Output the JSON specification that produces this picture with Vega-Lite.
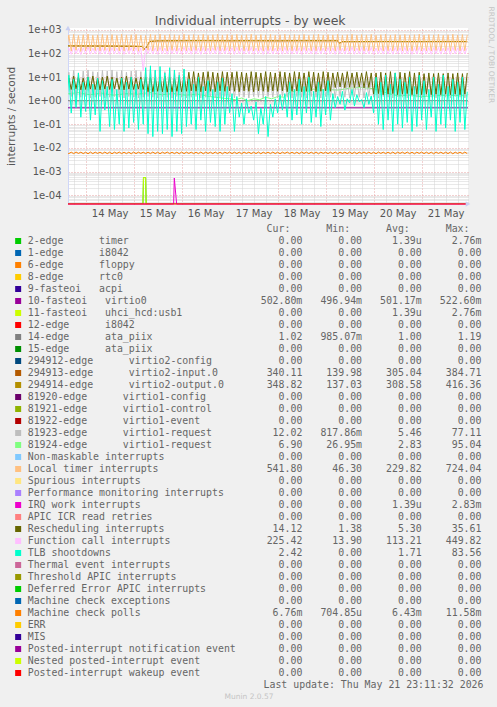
{
"$schema":"https://vega.github.io/schema/vega-lite/v6.json",
"background":"#f0f0f0",
"padding":{"left":6,"top":5,"right":4,"bottom":5},
"autosize":{"type":"pad"},
"title":{"text":"Individual interrupts - by week","font":"DejaVu Sans","fontSize":12.5,"fontWeight":"normal","color":"#555555","anchor":"middle","offset":-21},
"config":{"view":{"stroke":null},"font":"DejaVu Sans"},
"spacing":5,
"datasets":{
"wide":[
{"t":"2026-05-13T14:24","s17":1.4,"s20":130,"s25":3.1,"s26":95,"s27":0.4,"s32":0.0066},
{"t":"2026-05-13T15:36","s17":16,"s20":600,"s25":9,"s26":170,"s27":12,"s32":0.0057},
{"t":"2026-05-13T16:48","s17":1.5,"s20":125,"s25":3,"s26":92,"s27":0.3,"s32":0.0066},
{"t":"2026-05-13T18:00","s17":19,"s20":640,"s25":11,"s26":180,"s27":8,"s32":0.0057},
{"t":"2026-05-13T19:12","s17":1.3,"s20":135,"s25":3.2,"s26":98,"s27":0.5,"s32":0.0067},
{"t":"2026-05-13T20:24","s17":15,"s20":580,"s25":10,"s26":165,"s27":15,"s32":0.0058},
{"t":"2026-05-13T21:36","s17":1.4,"s20":120,"s25":2.9,"s26":90,"s27":0.2,"s32":0.0066},
{"t":"2026-05-13T22:48","s17":18,"s20":620,"s25":9,"s26":175,"s27":6,"s32":0.0057},
{"t":"2026-05-14T00:00","s17":1.5,"s20":130,"s25":3,"s26":96,"s27":0.35,"s32":0.0066},
{"t":"2026-05-14T01:12","s17":20,"s20":660,"s25":10,"s26":185,"s27":10,"s32":0.0056},
{"t":"2026-05-14T02:24","s17":1.3,"s20":128,"s25":3.1,"s26":94,"s27":0.15,"s32":0.0067},
{"t":"2026-05-14T03:36","s17":17,"s20":590,"s25":11,"s26":170,"s27":5,"s32":0.0057},
{"t":"2026-05-14T04:48","s17":1.4,"s20":132,"s25":3,"s26":97,"s27":0.25,"s32":0.0066},
{"t":"2026-05-14T06:00","s17":16,"s20":610,"s25":9,"s26":172,"s27":9,"s32":0.0058},
{"t":"2026-05-14T07:12","s17":1.5,"s20":126,"s25":2.9,"s26":93,"s27":0.05,"s32":0.0066},
{"t":"2026-05-14T08:24","s17":19,"s20":640,"s25":10,"s26":178,"s27":7,"s32":0.0057},
{"t":"2026-05-14T09:36","s17":1.3,"s20":134,"s25":3.1,"s26":95,"s27":0.4,"s32":0.0067},
{"t":"2026-05-14T10:48","s17":18,"s20":600,"s25":11,"s26":168,"s27":4,"s32":0.0057},
{"t":"2026-05-14T12:00","s17":1.4,"s20":124,"s25":3,"s26":91,"s27":0.08,"s32":0.0066},
{"t":"2026-05-14T13:12","s17":20,"s20":630,"s25":10,"s26":176,"s27":8,"s32":0.0056},
{"t":"2026-05-14T14:24","s17":1.5,"s20":130,"s25":3.2,"s26":96,"s27":0.06,"s32":0.0066},
{"t":"2026-05-14T15:36","s17":17,"s20":590,"s25":9,"s26":170,"s27":3,"s32":0.0058},
{"t":"2026-05-14T16:48","s17":1.4,"s20":128,"s25":3,"s26":94,"s27":0.1,"s32":0.0067},
{"t":"2026-05-14T18:00","s17":19,"s20":650,"s25":10,"s26":182,"s27":9,"s32":0.0057},
{"t":"2026-05-14T19:12","s17":1.3,"s20":126,"s25":2.9,"s26":92,"s27":0.05,"s32":0.0066},
{"t":"2026-05-14T20:24","s17":16,"s20":610,"s25":11,"s26":174,"s27":6,"s32":0.0057},
{"t":"2026-05-14T21:36","s17":1.5,"s20":133,"s25":3.1,"s26":97,"s27":0.07,"s32":0.0066},
{"t":"2026-05-14T22:48","s17":18,"s20":620,"s25":10,"s26":178,"s27":10,"s32":0.0056},
{"t":"2026-05-15T00:00","s17":1.4,"s20":129,"s25":3,"s26":95,"s27":0.12,"s32":0.0067},
{"t":"2026-05-15T01:12","s17":19,"s20":640,"s25":9,"s26":180,"s27":5,"s32":0.0057},
{"t":"2026-05-15T02:24","s17":1.3,"s20":125,"s25":3.1,"s26":93,"s27":0.06,"s32":0.0066},
{"t":"2026-05-15T03:36","s17":17,"s20":600,"s25":10,"s26":172,"s27":8,"s32":0.0058},
{"t":"2026-05-15T04:48","s17":1.4,"s20":130,"s25":3,"s26":18,"s27":0.1,"s32":0.0066},
{"t":"2026-05-15T06:00","s17":20,"s20":580,"s25":10,"s26":175,"s27":25,"s32":0.0057},
{"t":"2026-05-15T07:12","s17":1.5,"s20":135,"s25":2.4,"s26":98,"s27":0.04,"s32":0.0066},
{"t":"2026-05-15T08:24","s17":22,"s20":640,"s25":10,"s26":180,"s27":30,"s32":0.0057},
{"t":"2026-05-15T09:36","s17":1.4,"s20":128,"s25":2.4,"s26":94,"s27":0.03,"s32":0.0067},
{"t":"2026-05-15T10:48","s17":18,"s20":610,"s25":9,"s26":175,"s27":20,"s32":0.0057},
{"t":"2026-05-15T12:00","s17":1.3,"s20":126,"s25":2.5,"s26":92,"s27":0.05,"s32":0.0066},
{"t":"2026-05-15T13:12","s17":20,"s20":660,"s25":10,"s26":184,"s27":28,"s32":0.0056},
{"t":"2026-05-15T14:24","s17":1.5,"s20":131,"s25":2.4,"s26":96,"s27":0.04,"s32":0.0066},
{"t":"2026-05-15T15:36","s17":17,"s20":600,"s25":11,"s26":170,"s27":15,"s32":0.0058},
{"t":"2026-05-15T16:48","s17":1.4,"s20":127,"s25":2.3,"s26":93,"s27":0.06,"s32":0.0067},
{"t":"2026-05-15T18:00","s17":19,"s20":630,"s25":10,"s26":178,"s27":25,"s32":0.0057},
{"t":"2026-05-15T19:12","s17":1.3,"s20":133,"s25":2.4,"s26":97,"s27":0.03,"s32":0.0066},
{"t":"2026-05-15T20:24","s17":18,"s20":620,"s25":9,"s26":176,"s27":20,"s32":0.0057},
{"t":"2026-05-15T21:36","s17":1.5,"s20":129,"s25":2.5,"s26":95,"s27":0.05,"s32":0.0066},
{"t":"2026-05-15T22:48","s17":16,"s20":590,"s25":10,"s26":172,"s27":12,"s32":0.0056},
{"t":"2026-05-16T00:00","s17":1.4,"s20":126,"s25":2.4,"s26":94,"s27":0.04,"s32":0.0067},
{"t":"2026-05-16T01:12","s17":20,"s20":650,"s25":11,"s26":182,"s27":22,"s32":0.0057},
{"t":"2026-05-16T02:24","s17":1.3,"s20":130,"s25":2.5,"s26":96,"s27":0.08,"s32":0.0066},
{"t":"2026-05-16T03:36","s17":8,"s20":610,"s25":16,"s26":176,"s27":8,"s32":0.0058},
{"t":"2026-05-16T04:48","s17":1.4,"s20":128,"s25":2.6,"s26":93,"s27":0.1,"s32":0.0066},
{"t":"2026-05-16T06:00","s17":7,"s20":630,"s25":17,"s26":180,"s27":5,"s32":0.0057},
{"t":"2026-05-16T07:12","s17":1.5,"s20":132,"s25":2.5,"s26":97,"s27":0.06,"s32":0.0066},
{"t":"2026-05-16T08:24","s17":9,"s20":600,"s25":15,"s26":172,"s27":10,"s32":0.0057},
{"t":"2026-05-16T09:36","s17":1.3,"s20":126,"s25":2.4,"s26":92,"s27":0.15,"s32":0.0067},
{"t":"2026-05-16T10:48","s17":8,"s20":640,"s25":16,"s26":182,"s27":4,"s32":0.0056},
{"t":"2026-05-16T12:00","s17":1.4,"s20":130,"s25":2.6,"s26":95,"s27":0.05,"s32":0.0066},
{"t":"2026-05-16T13:12","s17":6,"s20":590,"s25":17,"s26":170,"s27":7,"s32":0.0058},
{"t":"2026-05-16T14:24","s17":1.5,"s20":128,"s25":2.5,"s26":94,"s27":0.12,"s32":0.0066},
{"t":"2026-05-16T15:36","s17":8,"s20":620,"s25":16,"s26":178,"s27":3,"s32":0.0057},
{"t":"2026-05-16T16:48","s17":1.3,"s20":134,"s25":2.4,"s26":96,"s27":0.08,"s32":0.0067},
{"t":"2026-05-16T18:00","s17":7,"s20":650,"s25":15,"s26":184,"s27":6,"s32":0.0057},
{"t":"2026-05-16T19:12","s17":1.4,"s20":127,"s25":2.6,"s26":93,"s27":0.05,"s32":0.0066},
{"t":"2026-05-16T20:24","s17":9,"s20":600,"s25":17,"s26":174,"s27":9,"s32":0.0056},
{"t":"2026-05-16T21:36","s17":1.5,"s20":131,"s25":2.5,"s26":97,"s27":0.1,"s32":0.0066},
{"t":"2026-05-16T22:48","s17":8,"s20":630,"s25":16,"s26":180,"s27":4,"s32":0.0058},
{"t":"2026-05-17T00:00","s17":1.4,"s20":129,"s25":2.6,"s26":95,"s27":0.3,"s32":0.0067},
{"t":"2026-05-17T01:12","s17":7,"s20":610,"s25":16,"s26":176,"s27":2,"s32":0.0057},
{"t":"2026-05-17T02:24","s17":1.3,"s20":126,"s25":2.5,"s26":92,"s27":0.05,"s32":0.0066},
{"t":"2026-05-17T03:36","s17":8,"s20":640,"s25":17,"s26":182,"s27":1.5,"s32":0.0057},
{"t":"2026-05-17T04:48","s17":1.5,"s20":133,"s25":2.4,"s26":96,"s27":0.2,"s32":0.0066},
{"t":"2026-05-17T06:00","s17":6,"s20":590,"s25":16,"s26":170,"s27":0.8,"s32":0.0056},
{"t":"2026-05-17T07:12","s17":1.4,"s20":128,"s25":2.6,"s26":94,"s27":0.1,"s32":0.0067},
{"t":"2026-05-17T08:24","s17":9,"s20":620,"s25":15,"s26":178,"s27":1.2,"s32":0.0058},
{"t":"2026-05-17T09:36","s17":1.3,"s20":130,"s25":2.5,"s26":95,"s27":0.3,"s32":0.0066},
{"t":"2026-05-17T10:48","s17":8,"s20":650,"s25":17,"s26":184,"s27":0.6,"s32":0.0057},
{"t":"2026-05-17T12:00","s17":1.5,"s20":127,"s25":2.4,"s26":93,"s27":0.15,"s32":0.0066},
{"t":"2026-05-17T13:12","s17":7,"s20":600,"s25":16,"s26":172,"s27":0.9,"s32":0.0057},
{"t":"2026-05-17T14:24","s17":1.4,"s20":132,"s25":2.6,"s26":97,"s27":0.04,"s32":0.0067},
{"t":"2026-05-17T15:36","s17":8,"s20":630,"s25":15,"s26":180,"s27":0.5,"s32":0.0056},
{"t":"2026-05-17T16:48","s17":1.3,"s20":126,"s25":2.5,"s26":92,"s27":0.1,"s32":0.0066},
{"t":"2026-05-17T18:00","s17":9,"s20":610,"s25":17,"s26":176,"s27":1.5,"s32":0.0058},
{"t":"2026-05-17T19:12","s17":1.5,"s20":131,"s25":2.4,"s26":96,"s27":0.03,"s32":0.0066},
{"t":"2026-05-17T20:24","s17":7,"s20":640,"s25":16,"s26":182,"s27":0.7,"s32":0.0057},
{"t":"2026-05-17T21:36","s17":1.4,"s20":128,"s25":2.6,"s26":94,"s27":0.2,"s32":0.0067},
{"t":"2026-05-17T22:48","s17":8,"s20":590,"s25":15,"s26":170,"s27":1.2,"s32":0.0057},
{"t":"2026-05-18T00:00","s17":1.3,"s20":130,"s25":2.5,"s26":95,"s27":0.3,"s32":0.0066},
{"t":"2026-05-18T01:12","s17":9,"s20":620,"s25":17,"s26":178,"s27":1.8,"s32":0.0056},
{"t":"2026-05-18T02:24","s17":1.5,"s20":127,"s25":2.6,"s26":93,"s27":0.4,"s32":0.0066},
{"t":"2026-05-18T03:36","s17":8,"s20":650,"s25":16,"s26":184,"s27":2,"s32":0.0058},
{"t":"2026-05-18T04:48","s17":1.4,"s20":133,"s25":2.4,"s26":97,"s27":0.2,"s32":0.0067},
{"t":"2026-05-18T06:00","s17":7,"s20":600,"s25":15,"s26":172,"s27":6,"s32":0.0057},
{"t":"2026-05-18T07:12","s17":1.3,"s20":128,"s25":2.5,"s26":94,"s27":0.15,"s32":0.0066},
{"t":"2026-05-18T08:24","s17":8,"s20":630,"s25":17,"s26":180,"s27":3,"s32":0.0057},
{"t":"2026-05-18T09:36","s17":1.5,"s20":130,"s25":2.6,"s26":95,"s27":0.25,"s32":0.0066},
{"t":"2026-05-18T10:48","s17":9,"s20":610,"s25":16,"s26":176,"s27":8,"s32":0.0056},
{"t":"2026-05-18T12:00","s17":1.4,"s20":126,"s25":2.4,"s26":92,"s27":0.1,"s32":0.0067},
{"t":"2026-05-18T13:12","s17":7,"s20":640,"s25":15,"s26":182,"s27":4,"s32":0.0058},
{"t":"2026-05-18T14:24","s17":1.3,"s20":132,"s25":2.5,"s26":96,"s27":0.3,"s32":0.0066},
{"t":"2026-05-18T15:36","s17":8,"s20":590,"s25":17,"s26":170,"s27":10,"s32":0.0057},
{"t":"2026-05-18T16:48","s17":1.5,"s20":129,"s25":2.6,"s26":95,"s27":0.12,"s32":0.0066},
{"t":"2026-05-18T18:00","s17":9,"s20":620,"s25":16,"s26":178,"s27":2.5,"s32":0.0057},
{"t":"2026-05-18T19:12","s17":1.4,"s20":127,"s25":2.4,"s26":93,"s27":0.2,"s32":0.0067},
{"t":"2026-05-18T20:24","s17":7,"s20":650,"s25":15,"s26":184,"s27":6,"s32":0.0056},
{"t":"2026-05-18T21:36","s17":1.3,"s20":131,"s25":2.5,"s26":97,"s27":0.08,"s32":0.0066},
{"t":"2026-05-18T22:48","s17":8,"s20":600,"s25":17,"s26":172,"s27":3,"s32":0.0058},
{"t":"2026-05-19T00:00","s17":1.5,"s20":128,"s25":2.6,"s26":94,"s27":0.25,"s32":0.0066},
{"t":"2026-05-19T01:12","s17":9,"s20":630,"s25":16,"s26":180,"s27":7,"s32":0.0057},
{"t":"2026-05-19T02:24","s17":1.4,"s20":130,"s25":2.5,"s26":95,"s27":0.15,"s32":0.0066},
{"t":"2026-05-19T03:36","s17":7,"s20":610,"s25":15,"s26":176,"s27":2,"s32":0.0057},
{"t":"2026-05-19T04:48","s17":1.3,"s20":126,"s25":3.6,"s26":92,"s27":0.5,"s32":0.0067},
{"t":"2026-05-19T06:00","s17":8,"s20":640,"s25":16,"s26":182,"s27":1.5,"s32":0.0056},
{"t":"2026-05-19T07:12","s17":1.5,"s20":133,"s25":3.8,"s26":96,"s27":0.7,"s32":0.0066},
{"t":"2026-05-19T08:24","s17":9,"s20":590,"s25":15,"s26":170,"s27":2.5,"s32":0.0058},
{"t":"2026-05-19T09:36","s17":1.4,"s20":128,"s25":3.5,"s26":94,"s27":0.4,"s32":0.0066},
{"t":"2026-05-19T10:48","s17":7,"s20":620,"s25":17,"s26":178,"s27":1.2,"s32":0.0057},
{"t":"2026-05-19T12:00","s17":1.3,"s20":130,"s25":3.7,"s26":95,"s27":0.8,"s32":0.0067},
{"t":"2026-05-19T13:12","s17":8,"s20":650,"s25":15,"s26":184,"s27":3,"s32":0.0057},
{"t":"2026-05-19T14:24","s17":1.5,"s20":127,"s25":3.6,"s26":93,"s27":0.6,"s32":0.0066},
{"t":"2026-05-19T15:36","s17":9,"s20":600,"s25":16,"s26":172,"s27":1.8,"s32":0.0056},
{"t":"2026-05-19T16:48","s17":1.4,"s20":132,"s25":3.8,"s26":97,"s27":0.9,"s32":0.0066},
{"t":"2026-05-19T18:00","s17":7,"s20":630,"s25":15,"s26":180,"s27":1.1,"s32":0.0058},
{"t":"2026-05-19T19:12","s17":1.3,"s20":128,"s25":3.5,"s26":94,"s27":0.5,"s32":0.0067},
{"t":"2026-05-19T20:24","s17":8,"s20":610,"s25":17,"s26":176,"s27":2.2,"s32":0.0057},
{"t":"2026-05-19T21:36","s17":1.5,"s20":130,"s25":3.6,"s26":95,"s27":0.7,"s32":0.0066},
{"t":"2026-05-19T22:48","s17":9,"s20":640,"s25":15,"s26":182,"s27":1.6,"s32":0.0057},
{"t":"2026-05-20T00:00","s17":1.4,"s20":126,"s25":1.9,"s26":92,"s27":0.3,"s32":0.0066},
{"t":"2026-05-20T01:12","s17":7,"s20":590,"s25":15,"s26":170,"s27":10,"s32":0.0056},
{"t":"2026-05-20T02:24","s17":1.3,"s20":133,"s25":2,"s26":96,"s27":0.1,"s32":0.0067},
{"t":"2026-05-20T03:36","s17":8,"s20":620,"s25":16,"s26":178,"s27":6,"s32":0.0058},
{"t":"2026-05-20T04:48","s17":1.5,"s20":128,"s25":1.8,"s26":94,"s27":0.06,"s32":0.0066},
{"t":"2026-05-20T06:00","s17":9,"s20":650,"s25":15,"s26":184,"s27":12,"s32":0.0057},
{"t":"2026-05-20T07:12","s17":1.4,"s20":130,"s25":1.9,"s26":95,"s27":0.15,"s32":0.0066},
{"t":"2026-05-20T08:24","s17":7,"s20":600,"s25":17,"s26":172,"s27":5,"s32":0.0057},
{"t":"2026-05-20T09:36","s17":1.3,"s20":127,"s25":2,"s26":93,"s27":0.05,"s32":0.0067},
{"t":"2026-05-20T10:48","s17":8,"s20":630,"s25":15,"s26":180,"s27":15,"s32":0.0056},
{"t":"2026-05-20T12:00","s17":1.5,"s20":132,"s25":1.8,"s26":97,"s27":0.1,"s32":0.0066},
{"t":"2026-05-20T13:12","s17":9,"s20":610,"s25":16,"s26":176,"s27":8,"s32":0.0058},
{"t":"2026-05-20T14:24","s17":1.4,"s20":128,"s25":1.9,"s26":94,"s27":0.07,"s32":0.0066},
{"t":"2026-05-20T15:36","s17":7,"s20":640,"s25":15,"s26":182,"s27":6,"s32":0.0057},
{"t":"2026-05-20T16:48","s17":1.3,"s20":130,"s25":2,"s26":95,"s27":0.12,"s32":0.0067},
{"t":"2026-05-20T18:00","s17":8,"s20":590,"s25":17,"s26":170,"s27":10,"s32":0.0057},
{"t":"2026-05-20T19:12","s17":1.5,"s20":126,"s25":1.8,"s26":92,"s27":0.05,"s32":0.0066},
{"t":"2026-05-20T20:24","s17":9,"s20":620,"s25":15,"s26":178,"s27":4,"s32":0.0056},
{"t":"2026-05-20T21:36","s17":1.4,"s20":133,"s25":1.9,"s26":96,"s27":0.08,"s32":0.0066},
{"t":"2026-05-20T22:48","s17":7,"s20":650,"s25":16,"s26":184,"s27":12,"s32":0.0058},
{"t":"2026-05-21T00:00","s17":1.3,"s20":128,"s25":1.8,"s26":94,"s27":0.15,"s32":0.0067},
{"t":"2026-05-21T01:12","s17":8,"s20":600,"s25":14,"s26":172,"s27":7,"s32":0.0057},
{"t":"2026-05-21T02:24","s17":1.5,"s20":130,"s25":1.9,"s26":95,"s27":0.06,"s32":0.0066},
{"t":"2026-05-21T03:36","s17":9,"s20":630,"s25":15,"s26":180,"s27":3,"s32":0.0057},
{"t":"2026-05-21T04:48","s17":1.4,"s20":127,"s25":1.8,"s26":93,"s27":0.2,"s32":0.0066},
{"t":"2026-05-21T06:00","s17":7,"s20":610,"s25":14,"s26":176,"s27":10,"s32":0.0056},
{"t":"2026-05-21T07:12","s17":1.3,"s20":132,"s25":1.9,"s26":97,"s27":0.05,"s32":0.0067},
{"t":"2026-05-21T08:24","s17":8,"s20":640,"s25":15,"s26":182,"s27":5,"s32":0.0058},
{"t":"2026-05-21T09:36","s17":1.5,"s20":128,"s25":1.8,"s26":94,"s27":0.1,"s32":0.0066},
{"t":"2026-05-21T10:48","s17":9,"s20":590,"s25":14,"s26":170,"s27":12,"s32":0.0057},
{"t":"2026-05-21T12:00","s17":1.4,"s20":130,"s25":1.9,"s26":95,"s27":0.07,"s32":0.0066},
{"t":"2026-05-21T13:12","s17":7,"s20":620,"s25":15,"s26":178,"s27":4,"s32":0.0057},
{"t":"2026-05-21T14:24","s17":1.3,"s20":126,"s25":1.8,"s26":92,"s27":0.15,"s32":0.0067},
{"t":"2026-05-21T15:36","s17":8,"s20":650,"s25":14,"s26":184,"s27":8,"s32":0.0056},
{"t":"2026-05-21T16:48","s17":1.5,"s20":133,"s25":1.9,"s26":96,"s27":0.05,"s32":0.0066},
{"t":"2026-05-21T18:00","s17":9,"s20":600,"s25":15,"s26":172,"s27":6,"s32":0.0058},
{"t":"2026-05-21T19:12","s17":1.4,"s20":128,"s25":1.8,"s26":94,"s27":0.12,"s32":0.0066},
{"t":"2026-05-21T20:24","s17":7,"s20":630,"s25":14,"s26":180,"s27":10,"s32":0.0057},
{"t":"2026-05-21T21:36","s17":1.3,"s20":130,"s25":1.9,"s26":95,"s27":0.06,"s32":0.0067},
{"t":"2026-05-21T22:48","s17":8,"s20":610,"s25":15,"s26":176,"s27":2.4,"s32":0.0057}
],
"low":[
{"t":"2026-05-13T15:11","k":"s1","v":0},
{"t":"2026-05-15T04:40","k":"s1","v":0},
{"t":"2026-05-15T04:55","k":"s1","v":0.00055},
{"t":"2026-05-15T06:00","k":"s1","v":0.00055},
{"t":"2026-05-15T06:15","k":"s1","v":0},
{"t":"2026-05-21T23:11","k":"s1","v":0},
{"t":"2026-05-13T15:11","k":"s6","v":0.5},
{"t":"2026-05-21T23:11","k":"s6","v":0.5},
{"t":"2026-05-13T15:11","k":"s7","v":0},
{"t":"2026-05-15T04:40","k":"s7","v":0},
{"t":"2026-05-15T04:55","k":"s7","v":0.00055},
{"t":"2026-05-15T06:00","k":"s7","v":0.00055},
{"t":"2026-05-15T06:15","k":"s7","v":0},
{"t":"2026-05-21T23:11","k":"s7","v":0},
{"t":"2026-05-13T15:11","k":"s9","v":1.0},
{"t":"2026-05-21T23:11","k":"s9","v":1.0},
{"t":"2026-05-13T14:24","k":"s12","v":208},
{"t":"2026-05-14T00:00","k":"s12","v":206},
{"t":"2026-05-14T12:00","k":"s12","v":204},
{"t":"2026-05-15T00:00","k":"s12","v":201},
{"t":"2026-05-15T04:00","k":"s12","v":196},
{"t":"2026-05-15T05:30","k":"s12","v":150},
{"t":"2026-05-15T06:30","k":"s12","v":185},
{"t":"2026-05-15T08:00","k":"s12","v":320},
{"t":"2026-05-15T12:00","k":"s12","v":338},
{"t":"2026-05-16T00:00","k":"s12","v":343},
{"t":"2026-05-16T12:00","k":"s12","v":345},
{"t":"2026-05-17T00:00","k":"s12","v":341},
{"t":"2026-05-17T12:00","k":"s12","v":343},
{"t":"2026-05-18T00:00","k":"s12","v":339},
{"t":"2026-05-18T12:00","k":"s12","v":343},
{"t":"2026-05-19T00:00","k":"s12","v":341},
{"t":"2026-05-19T06:00","k":"s12","v":343},
{"t":"2026-05-19T07:00","k":"s12","v":262},
{"t":"2026-05-19T08:00","k":"s12","v":314},
{"t":"2026-05-19T18:00","k":"s12","v":316},
{"t":"2026-05-20T06:00","k":"s12","v":318},
{"t":"2026-05-20T18:00","k":"s12","v":316},
{"t":"2026-05-21T06:00","k":"s12","v":318},
{"t":"2026-05-21T22:48","k":"s12","v":318},
{"t":"2026-05-13T14:24","k":"s13","v":212},
{"t":"2026-05-14T00:00","k":"s13","v":210},
{"t":"2026-05-14T12:00","k":"s13","v":208},
{"t":"2026-05-15T00:00","k":"s13","v":205},
{"t":"2026-05-15T04:00","k":"s13","v":200},
{"t":"2026-05-15T05:30","k":"s13","v":160},
{"t":"2026-05-15T06:30","k":"s13","v":190},
{"t":"2026-05-15T08:00","k":"s13","v":330},
{"t":"2026-05-15T12:00","k":"s13","v":345},
{"t":"2026-05-16T00:00","k":"s13","v":350},
{"t":"2026-05-16T12:00","k":"s13","v":352},
{"t":"2026-05-17T00:00","k":"s13","v":348},
{"t":"2026-05-17T12:00","k":"s13","v":350},
{"t":"2026-05-18T00:00","k":"s13","v":346},
{"t":"2026-05-18T12:00","k":"s13","v":350},
{"t":"2026-05-19T00:00","k":"s13","v":348},
{"t":"2026-05-19T06:00","k":"s13","v":350},
{"t":"2026-05-19T07:00","k":"s13","v":270},
{"t":"2026-05-19T08:00","k":"s13","v":320},
{"t":"2026-05-19T18:00","k":"s13","v":322},
{"t":"2026-05-20T06:00","k":"s13","v":325},
{"t":"2026-05-20T18:00","k":"s13","v":322},
{"t":"2026-05-21T06:00","k":"s13","v":325},
{"t":"2026-05-21T22:48","k":"s13","v":325},
{"t":"2026-05-13T14:24","k":"s18","v":1.9},
{"t":"2026-05-13T20:00","k":"s18","v":2.2},
{"t":"2026-05-14T02:00","k":"s18","v":1.8},
{"t":"2026-05-14T08:00","k":"s18","v":2.1},
{"t":"2026-05-14T14:00","k":"s18","v":1.7},
{"t":"2026-05-14T20:00","k":"s18","v":2.0},
{"t":"2026-05-15T02:00","k":"s18","v":1.9},
{"t":"2026-05-15T08:00","k":"s18","v":2.2},
{"t":"2026-05-15T14:00","k":"s18","v":1.8},
{"t":"2026-05-15T20:00","k":"s18","v":2.0},
{"t":"2026-05-16T02:00","k":"s18","v":1.7},
{"t":"2026-05-16T08:00","k":"s18","v":1.9},
{"t":"2026-05-16T14:00","k":"s18","v":1.5},
{"t":"2026-05-16T20:00","k":"s18","v":1.3},
{"t":"2026-05-17T00:00","k":"s18","v":1.2},
{"t":"2026-05-17T03:00","k":"s18","v":1.1},
{"t":"2026-05-17T06:00","k":"s18","v":1.3},
{"t":"2026-05-17T09:00","k":"s18","v":1.0},
{"t":"2026-05-17T12:00","k":"s18","v":1.2},
{"t":"2026-05-17T15:00","k":"s18","v":1.1},
{"t":"2026-05-17T18:00","k":"s18","v":1.4},
{"t":"2026-05-17T21:00","k":"s18","v":1.2},
{"t":"2026-05-18T00:00","k":"s18","v":1.5},
{"t":"2026-05-18T03:00","k":"s18","v":1.4},
{"t":"2026-05-18T06:00","k":"s18","v":2.2},
{"t":"2026-05-18T09:00","k":"s18","v":2.6},
{"t":"2026-05-18T12:00","k":"s18","v":2.9},
{"t":"2026-05-18T15:00","k":"s18","v":2.5},
{"t":"2026-05-18T18:00","k":"s18","v":3.1},
{"t":"2026-05-18T21:00","k":"s18","v":2.7},
{"t":"2026-05-19T00:00","k":"s18","v":3.0},
{"t":"2026-05-19T06:00","k":"s18","v":2.8},
{"t":"2026-05-19T12:00","k":"s18","v":3.4},
{"t":"2026-05-19T18:00","k":"s18","v":3.6},
{"t":"2026-05-20T00:00","k":"s18","v":3.2},
{"t":"2026-05-20T06:00","k":"s18","v":2.2},
{"t":"2026-05-20T12:00","k":"s18","v":1.6},
{"t":"2026-05-20T18:00","k":"s18","v":1.7},
{"t":"2026-05-21T00:00","k":"s18","v":1.5},
{"t":"2026-05-21T12:00","k":"s18","v":1.7},
{"t":"2026-05-21T22:48","k":"s18","v":1.6}
],
"top":[
{"t":"2026-05-13T15:11","k":"s23","v":0},
{"t":"2026-05-15T20:00","k":"s23","v":0},
{"t":"2026-05-15T20:20","k":"s23","v":0.00053},
{"t":"2026-05-15T21:30","k":"s23","v":0},
{"t":"2026-05-21T23:11","k":"s23","v":0},
{"t":"2026-05-13T15:11","k":"s37","v":0},
{"t":"2026-05-21T23:11","k":"s37","v":0}
],
"legend":[
{"k":"s1","name":"2-edge\u00a0\u00a0\u00a0\u00a0\u00a0\u00a0timer","cur":"0.00\u00a0","min":"0.00\u00a0","avg":"1.39u","max":"2.76m"},
{"k":"s2","name":"1-edge\u00a0\u00a0\u00a0\u00a0\u00a0\u00a0i8042","cur":"0.00\u00a0","min":"0.00\u00a0","avg":"0.00\u00a0","max":"0.00\u00a0"},
{"k":"s3","name":"6-edge\u00a0\u00a0\u00a0\u00a0\u00a0\u00a0floppy","cur":"0.00\u00a0","min":"0.00\u00a0","avg":"0.00\u00a0","max":"0.00\u00a0"},
{"k":"s4","name":"8-edge\u00a0\u00a0\u00a0\u00a0\u00a0\u00a0rtc0","cur":"0.00\u00a0","min":"0.00\u00a0","avg":"0.00\u00a0","max":"0.00\u00a0"},
{"k":"s5","name":"9-fasteoi\u00a0\u00a0\u00a0acpi","cur":"0.00\u00a0","min":"0.00\u00a0","avg":"0.00\u00a0","max":"0.00\u00a0"},
{"k":"s6","name":"10-fasteoi\u00a0\u00a0\u00a0virtio0","cur":"502.80m","min":"496.94m","avg":"501.17m","max":"522.60m"},
{"k":"s7","name":"11-fasteoi\u00a0\u00a0\u00a0uhci_hcd:usb1","cur":"0.00\u00a0","min":"0.00\u00a0","avg":"1.39u","max":"2.76m"},
{"k":"s8","name":"12-edge\u00a0\u00a0\u00a0\u00a0\u00a0\u00a0i8042","cur":"0.00\u00a0","min":"0.00\u00a0","avg":"0.00\u00a0","max":"0.00\u00a0"},
{"k":"s9","name":"14-edge\u00a0\u00a0\u00a0\u00a0\u00a0\u00a0ata_piix","cur":"1.02\u00a0","min":"985.07m","avg":"1.00\u00a0","max":"1.19\u00a0"},
{"k":"s10","name":"15-edge\u00a0\u00a0\u00a0\u00a0\u00a0\u00a0ata_piix","cur":"0.00\u00a0","min":"0.00\u00a0","avg":"0.00\u00a0","max":"0.00\u00a0"},
{"k":"s11","name":"294912-edge\u00a0\u00a0\u00a0\u00a0\u00a0\u00a0virtio2-config","cur":"0.00\u00a0","min":"0.00\u00a0","avg":"0.00\u00a0","max":"0.00\u00a0"},
{"k":"s12","name":"294913-edge\u00a0\u00a0\u00a0\u00a0\u00a0\u00a0virtio2-input.0","cur":"340.11\u00a0","min":"139.98\u00a0","avg":"305.04\u00a0","max":"384.71\u00a0"},
{"k":"s13","name":"294914-edge\u00a0\u00a0\u00a0\u00a0\u00a0\u00a0virtio2-output.0","cur":"348.82\u00a0","min":"137.03\u00a0","avg":"308.58\u00a0","max":"416.36\u00a0"},
{"k":"s14","name":"81920-edge\u00a0\u00a0\u00a0\u00a0\u00a0\u00a0virtio1-config","cur":"0.00\u00a0","min":"0.00\u00a0","avg":"0.00\u00a0","max":"0.00\u00a0"},
{"k":"s15","name":"81921-edge\u00a0\u00a0\u00a0\u00a0\u00a0\u00a0virtio1-control","cur":"0.00\u00a0","min":"0.00\u00a0","avg":"0.00\u00a0","max":"0.00\u00a0"},
{"k":"s16","name":"81922-edge\u00a0\u00a0\u00a0\u00a0\u00a0\u00a0virtio1-event","cur":"0.00\u00a0","min":"0.00\u00a0","avg":"0.00\u00a0","max":"0.00\u00a0"},
{"k":"s17","name":"81923-edge\u00a0\u00a0\u00a0\u00a0\u00a0\u00a0virtio1-request","cur":"12.02\u00a0","min":"817.86m","avg":"5.46\u00a0","max":"77.11\u00a0"},
{"k":"s18","name":"81924-edge\u00a0\u00a0\u00a0\u00a0\u00a0\u00a0virtio1-request","cur":"6.90\u00a0","min":"26.95m","avg":"2.83\u00a0","max":"95.04\u00a0"},
{"k":"s19","name":"Non-maskable interrupts","cur":"0.00\u00a0","min":"0.00\u00a0","avg":"0.00\u00a0","max":"0.00\u00a0"},
{"k":"s20","name":"Local timer interrupts","cur":"541.80\u00a0","min":"46.30\u00a0","avg":"229.82\u00a0","max":"724.04\u00a0"},
{"k":"s21","name":"Spurious interrupts","cur":"0.00\u00a0","min":"0.00\u00a0","avg":"0.00\u00a0","max":"0.00\u00a0"},
{"k":"s22","name":"Performance monitoring interrupts","cur":"0.00\u00a0","min":"0.00\u00a0","avg":"0.00\u00a0","max":"0.00\u00a0"},
{"k":"s23","name":"IRQ work interrupts","cur":"0.00\u00a0","min":"0.00\u00a0","avg":"1.39u","max":"2.83m"},
{"k":"s24","name":"APIC ICR read retries","cur":"0.00\u00a0","min":"0.00\u00a0","avg":"0.00\u00a0","max":"0.00\u00a0"},
{"k":"s25","name":"Rescheduling interrupts","cur":"14.12\u00a0","min":"1.38\u00a0","avg":"5.30\u00a0","max":"35.61\u00a0"},
{"k":"s26","name":"Function call interrupts","cur":"225.42\u00a0","min":"13.90\u00a0","avg":"113.21\u00a0","max":"449.82\u00a0"},
{"k":"s27","name":"TLB shootdowns","cur":"2.42\u00a0","min":"0.00\u00a0","avg":"1.71\u00a0","max":"83.56\u00a0"},
{"k":"s28","name":"Thermal event interrupts","cur":"0.00\u00a0","min":"0.00\u00a0","avg":"0.00\u00a0","max":"0.00\u00a0"},
{"k":"s29","name":"Threshold APIC interrupts","cur":"0.00\u00a0","min":"0.00\u00a0","avg":"0.00\u00a0","max":"0.00\u00a0"},
{"k":"s30","name":"Deferred Error APIC interrupts","cur":"0.00\u00a0","min":"0.00\u00a0","avg":"0.00\u00a0","max":"0.00\u00a0"},
{"k":"s31","name":"Machine check exceptions","cur":"0.00\u00a0","min":"0.00\u00a0","avg":"0.00\u00a0","max":"0.00\u00a0"},
{"k":"s32","name":"Machine check polls","cur":"6.76m","min":"704.85u","avg":"6.43m","max":"11.58m"},
{"k":"s33","name":"ERR","cur":"0.00\u00a0","min":"0.00\u00a0","avg":"0.00\u00a0","max":"0.00\u00a0"},
{"k":"s34","name":"MIS","cur":"0.00\u00a0","min":"0.00\u00a0","avg":"0.00\u00a0","max":"0.00\u00a0"},
{"k":"s35","name":"Posted-interrupt notification event","cur":"0.00\u00a0","min":"0.00\u00a0","avg":"0.00\u00a0","max":"0.00\u00a0"},
{"k":"s36","name":"Nested posted-interrupt event","cur":"0.00\u00a0","min":"0.00\u00a0","avg":"0.00\u00a0","max":"0.00\u00a0"},
{"k":"s37","name":"Posted-interrupt wakeup event","cur":"0.00\u00a0","min":"0.00\u00a0","avg":"0.00\u00a0","max":"0.00\u00a0"}
],
"hdr":[{"a":"Cur:","b":"Min:","c":"Avg:","d":"Max:","u":"Last update: Thu May 21 23:11:32 2026","m":"Munin 2.0.57"}]
},
"vconcat":[
{
"width":400,"height":176,
"view":{"fill":"#ffffff","stroke":null},
"resolve":{"axis":{"x":"independent","y":"independent"}},
"layer":[
{"data":{"name":"low"},
 "mark":{"type":"line","strokeWidth":1,"clip":true},
 "encoding":{
  "x":{"field":"t","type":"temporal","scale":{"domain":[{"year":2026,"month":5,"date":13,"hours":15,"minutes":11},{"year":2026,"month":5,"date":21,"hours":23,"minutes":11}],"nice":false},
   "axis":{"orient":"bottom","values":[{"year":2026,"month":5,"date":14,"hours":12},{"year":2026,"month":5,"date":15,"hours":12},{"year":2026,"month":5,"date":16,"hours":12},{"year":2026,"month":5,"date":17,"hours":12},{"year":2026,"month":5,"date":18,"hours":12},{"year":2026,"month":5,"date":19,"hours":12},{"year":2026,"month":5,"date":20,"hours":12},{"year":2026,"month":5,"date":21,"hours":12}],
    "format":"%d %b","grid":false,"ticks":false,"domain":false,"labelFont":"DejaVu Sans","labelFontSize":10,"labelColor":"#555555","labelPadding":4,"labelFlush":false,"labelOverlap":false,"title":null}},
  "y":{"field":"v","type":"quantitative","scale":{"type":"log","domain":[4.2e-5,1200],"nice":false,"clamp":true},
   "axis":{"orient":"left","values":[0.0001,0.001,0.01,0.1,1,10,100,1000],"labelExpr":"'1e' + (datum.value >= 1 ? '+' : '-') + '0' + abs(round(log(datum.value) / LN10))",
    "grid":true,"gridColor":"#e6a3a3","gridDash":[1,2],"ticks":false,"domain":true,"domainColor":"#cfd6f8","labelFont":"DejaVu Sans","labelFontSize":10,"labelColor":"#555555","labelPadding":7,"labelOverlap":false,
    "title":"interrupts / second","titleFont":"DejaVu Sans","titleFontSize":10.5,"titleFontWeight":"normal","titleColor":"#555555","titlePadding":11}},
  "color":{"field":"k","type":"nominal","legend":null,"scale":{"domain":["s1","s2","s3","s4","s5","s6","s7","s8","s9","s10","s11","s12","s13","s14","s15","s16","s17","s18","s19","s20","s21","s22","s23","s24","s25","s26","s27","s28","s29","s30","s31","s32","s33","s34","s35","s36","s37"],"range":["#00CC00","#0066B3","#FF8000","#FFCC00","#330099","#990099","#CCFF00","#FF0000","#808080","#008F00","#00487D","#B35A00","#B38F00","#6B006B","#8FB300","#B30000","#BEBEBE","#80FF80","#80C9FF","#FFC080","#FFE680","#AA80FF","#EE00CC","#FF8080","#666600","#FFBFFF","#00FFCC","#CC6699","#999900","#00CC00","#0066B3","#FF8000","#FFCC00","#330099","#990099","#CCFF00","#FF0000"]}}
 }},
{"data":{"name":"wide"},
 "transform":[{"fold":["s17","s20","s25","s26","s27","s32"],"as":["k","v"]}],
 "mark":{"type":"line","strokeWidth":1,"clip":true},
 "encoding":{
  "x":{"field":"t","type":"temporal",
   "axis":{"orient":"top","values":[{"year":2026,"month":5,"date":13,"hours":18},{"year":2026,"month":5,"date":14,"hours":6},{"year":2026,"month":5,"date":14,"hours":12},{"year":2026,"month":5,"date":14,"hours":18},{"year":2026,"month":5,"date":15,"hours":6},{"year":2026,"month":5,"date":15,"hours":12},{"year":2026,"month":5,"date":15,"hours":18},{"year":2026,"month":5,"date":16,"hours":6},{"year":2026,"month":5,"date":16,"hours":12},{"year":2026,"month":5,"date":16,"hours":18},{"year":2026,"month":5,"date":17,"hours":6},{"year":2026,"month":5,"date":17,"hours":12},{"year":2026,"month":5,"date":17,"hours":18},{"year":2026,"month":5,"date":18,"hours":6},{"year":2026,"month":5,"date":18,"hours":12},{"year":2026,"month":5,"date":18,"hours":18},{"year":2026,"month":5,"date":19,"hours":6},{"year":2026,"month":5,"date":19,"hours":12},{"year":2026,"month":5,"date":19,"hours":18},{"year":2026,"month":5,"date":20,"hours":6},{"year":2026,"month":5,"date":20,"hours":12},{"year":2026,"month":5,"date":20,"hours":18},{"year":2026,"month":5,"date":21,"hours":6},{"year":2026,"month":5,"date":21,"hours":12},{"year":2026,"month":5,"date":21,"hours":18}],
    "grid":true,"gridColor":"#d2d2d2","gridDash":[1,1],"labels":false,"ticks":false,"domain":false,"title":null}},
  "y":{"field":"v","type":"quantitative",
   "axis":{"orient":"right","values":[5e-5,6e-5,7e-5,8e-5,9e-5,2e-4,3e-4,4e-4,5e-4,6e-4,7e-4,8e-4,9e-4,0.002,0.003,0.004,0.005,0.006,0.007,0.008,0.009,0.02,0.03,0.04,0.05,0.06,0.07,0.08,0.09,0.2,0.3,0.4,0.5,0.6,0.7,0.8,0.9,2,3,4,5,6,7,8,9,20,30,40,50,60,70,80,90,200,300,400,500,600,700,800,900],
    "grid":true,"gridColor":"#d2d2d2","gridDash":[1,1],"labels":false,"ticks":false,"domain":false,
    "title":"RRDTOOL / TOBI OETIKER","titleFont":"DejaVu Sans","titleFontSize":7.5,"titleFontWeight":"normal","titleColor":"#c4c4c4","titleAngle":90,"titlePadding":18,"titleY":-22,"titleAlign":"left"}},
  "color":{"field":"k","type":"nominal","legend":null}
 }},
{"data":{"name":"top"},
 "mark":{"type":"line","strokeWidth":1,"clip":false},
 "encoding":{
  "x":{"field":"t","type":"temporal",
   "axis":{"orient":"top","values":[{"year":2026,"month":5,"date":14},{"year":2026,"month":5,"date":15},{"year":2026,"month":5,"date":16},{"year":2026,"month":5,"date":17},{"year":2026,"month":5,"date":18},{"year":2026,"month":5,"date":19},{"year":2026,"month":5,"date":20},{"year":2026,"month":5,"date":21}],"grid":true,"gridColor":"#e6a3a3","gridDash":[1,2],"labels":false,"ticks":false,"domain":false,"title":null}},
  "y":{"field":"v","type":"quantitative","axis":null},
  "color":{"field":"k","type":"nominal","legend":null}
 }},
{"data":{"values":[{}]},
 "mark":{"type":"point","shape":"triangle-up","filled":true,"size":28,"color":"#c9d0f2","opacity":1},
 "encoding":{
  "x":{"datum":{"year":2026,"month":5,"date":13,"hours":15,"minutes":11},"type":"temporal","axis":null},
  "y":{"datum":1200,"type":"quantitative","axis":null}
 }},
{"data":{"values":[{}]},
 "mark":{"type":"point","shape":"triangle-right","filled":true,"size":28,"color":"#c9d0f2","opacity":1},
 "encoding":{
  "x":{"datum":{"year":2026,"month":5,"date":21,"hours":23,"minutes":11},"type":"temporal","axis":null},
  "y":{"datum":4.2e-5,"type":"quantitative","axis":null}
 }}
]
},
{
"width":400,"height":480,
"data":{"name":"legend"},
"layer":[
{"mark":{"type":"square","size":36,"opacity":1,"filled":true},
 "encoding":{"x":{"datum":-1.6,"type":"quantitative","axis":null,"scale":{"domain":[6.75,73.75],"nice":false,"zero":false}},
  "y":{"field":"k","type":"nominal","axis":null,"scale":{"type":"point","padding":0.5,"domain":["hdr","s1","s2","s3","s4","s5","s6","s7","s8","s9","s10","s11","s12","s13","s14","s15","s16","s17","s18","s19","s20","s21","s22","s23","s24","s25","s26","s27","s28","s29","s30","s31","s32","s33","s34","s35","s36","s37","upd","mun"]}},
  "color":{"field":"k","type":"nominal","legend":null,"scale":{"domain":["s1","s2","s3","s4","s5","s6","s7","s8","s9","s10","s11","s12","s13","s14","s15","s16","s17","s18","s19","s20","s21","s22","s23","s24","s25","s26","s27","s28","s29","s30","s31","s32","s33","s34","s35","s36","s37"],"range":["#00CC00","#0066B3","#FF8000","#FFCC00","#330099","#990099","#CCFF00","#FF0000","#808080","#008F00","#00487D","#B35A00","#B38F00","#6B006B","#8FB300","#B30000","#BEBEBE","#80FF80","#80C9FF","#FFC080","#FFE680","#AA80FF","#EE00CC","#FF8080","#666600","#FFBFFF","#00FFCC","#CC6699","#999900","#00CC00","#0066B3","#FF8000","#FFCC00","#330099","#990099","#CCFF00","#FF0000"]}}}},
{"mark":{"type":"text","font":"DejaVu Sans Mono","fontSize":9.9,"color":"#666666","baseline":"middle","align":"left"},
 "encoding":{"x":{"datum":0,"type":"quantitative"},"y":{"field":"k","type":"nominal"},"text":{"field":"name"}}},
{"mark":{"type":"text","font":"DejaVu Sans Mono","fontSize":9.9,"color":"#666666","baseline":"middle","align":"right"},
 "encoding":{"x":{"datum":46,"type":"quantitative"},"y":{"field":"k","type":"nominal"},"text":{"field":"cur"}}},
{"mark":{"type":"text","font":"DejaVu Sans Mono","fontSize":9.9,"color":"#666666","baseline":"middle","align":"right"},
 "encoding":{"x":{"datum":56,"type":"quantitative"},"y":{"field":"k","type":"nominal"},"text":{"field":"min"}}},
{"mark":{"type":"text","font":"DejaVu Sans Mono","fontSize":9.9,"color":"#666666","baseline":"middle","align":"right"},
 "encoding":{"x":{"datum":66,"type":"quantitative"},"y":{"field":"k","type":"nominal"},"text":{"field":"avg"}}},
{"mark":{"type":"text","font":"DejaVu Sans Mono","fontSize":9.9,"color":"#666666","baseline":"middle","align":"right"},
 "encoding":{"x":{"datum":76,"type":"quantitative"},"y":{"field":"k","type":"nominal"},"text":{"field":"max"}}},
{"data":{"name":"hdr"},
 "mark":{"type":"text","font":"DejaVu Sans Mono","fontSize":9.9,"color":"#666666","baseline":"middle","align":"right"},
 "encoding":{"x":{"datum":44,"type":"quantitative"},"y":{"datum":"hdr","type":"nominal"},"text":{"field":"a"}}},
{"data":{"name":"hdr"},
 "mark":{"type":"text","font":"DejaVu Sans Mono","fontSize":9.9,"color":"#666666","baseline":"middle","align":"right"},
 "encoding":{"x":{"datum":54,"type":"quantitative"},"y":{"datum":"hdr","type":"nominal"},"text":{"field":"b"}}},
{"data":{"name":"hdr"},
 "mark":{"type":"text","font":"DejaVu Sans Mono","fontSize":9.9,"color":"#666666","baseline":"middle","align":"right"},
 "encoding":{"x":{"datum":64,"type":"quantitative"},"y":{"datum":"hdr","type":"nominal"},"text":{"field":"c"}}},
{"data":{"name":"hdr"},
 "mark":{"type":"text","font":"DejaVu Sans Mono","fontSize":9.9,"color":"#666666","baseline":"middle","align":"right"},
 "encoding":{"x":{"datum":74,"type":"quantitative"},"y":{"datum":"hdr","type":"nominal"},"text":{"field":"d"}}},
{"data":{"name":"hdr"},
 "mark":{"type":"text","font":"DejaVu Sans Mono","fontSize":9.9,"color":"#666666","baseline":"middle","align":"right"},
 "encoding":{"x":{"datum":76.35,"type":"quantitative"},"y":{"datum":"upd","type":"nominal"},"text":{"field":"u"}}},
{"data":{"name":"hdr"},
 "mark":{"type":"text","font":"DejaVu Sans","fontSize":7.5,"color":"#c4c4c4","baseline":"middle","align":"center"},
 "encoding":{"x":{"datum":37.07,"type":"quantitative"},"y":{"datum":"mun","type":"nominal"},"text":{"field":"m"}}}
]
}
]
}
